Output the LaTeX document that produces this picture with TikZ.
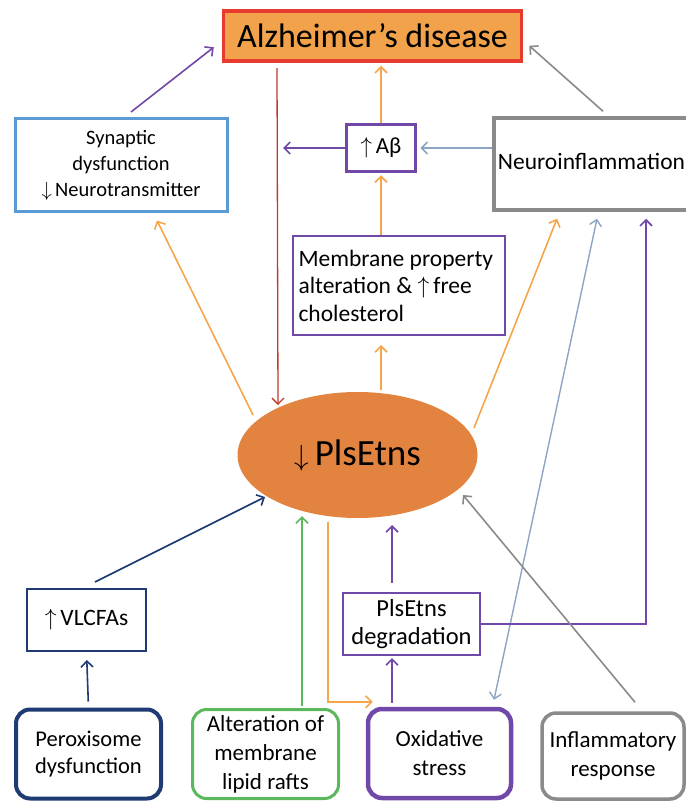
\RequirePackage{fix-cm}
\documentclass[tikz,border=0pt]{standalone}
\usepackage{fontspec}
\setmainfont{Carlito}
\usetikzlibrary{arrows.meta,shapes.geometric,calc}
\definecolor{adorange}{HTML}{F1A24A}
\definecolor{adred}{HTML}{E63B2E}
\definecolor{plsorange}{HTML}{E2843F}
\definecolor{arrorange}{HTML}{F5A64B}
\definecolor{linered}{HTML}{C0392B}
\definecolor{ppurple}{HTML}{7048A8}
\definecolor{synblue}{HTML}{5B9BD5}
\definecolor{ngray}{HTML}{8A8A8A}
\definecolor{bluegray}{HTML}{8DA5C5}
\definecolor{navy}{HTML}{1F3B73}
\definecolor{lgreen}{HTML}{5CB85C}

\begin{document}
\begin{tikzpicture}[
  x=1pt, y=-1pt,
  every node/.style={align=center, inner sep=0pt},
  rootbox/.style={rectangle, draw=adred, fill=adorange, line width=3.5pt,
                  minimum width=298pt, minimum height=50pt,
                  font=\fontsize{34}{40}\selectfont},
  midbox/.style={rectangle, draw, fill=white, line width=3pt,
                 font=\fontsize{24}{28}\selectfont},
  thinbox/.style={rectangle, draw, fill=white, line width=2pt,
                  font=\fontsize{24}{27}\selectfont},
  causebox/.style={rectangle, rounded corners=14pt, draw, fill=white, line width=4pt,
                   minimum height=89pt, font=\fontsize{23}{29}\selectfont},
  plsnode/.style={ellipse, fill=plsorange, minimum width=240pt, minimum height=126pt,
                  font=\fontsize{37}{40}\selectfont},
  arr/.style={line width=1.6pt, -{Straight Barb[length=6pt,width=12pt]}},
  darr/.style={line width=1.6pt, {Straight Barb[length=6pt,width=12pt]}-{Straight Barb[length=6pt,width=12pt]}}
]
\useasboundingbox (0,0) rectangle (685,802);

% Top
\node[rootbox] (ad) at (372.5, 36) {Alzheimer’s disease};

% Second row
\node[midbox, draw=synblue, minimum width=212pt, minimum height=93pt,
      font=\fontsize{20.5}{26}\selectfont] (syn) at (121, 165)
  {Synaptic\\dysfunction\\$\downarrow$\,Neurotransmitter};
\node[midbox, draw=ppurple, line width=3.5pt, minimum width=69pt, minimum height=47pt,
      font=\fontsize{23}{26}\selectfont] (abeta) at (381, 148) {$\uparrow$\,Aβ};
\node[midbox, draw=ngray, line width=3.5pt, minimum width=205pt, minimum height=92pt,
      font=\fontsize{23.5}{28}\selectfont] (neuro) at (596.5, 164)
  {\raisebox{6pt}{Neuroinflammation}\hspace*{10pt}};
\coordinate (abend) at (283, 148);

% Membrane box
\node[thinbox, draw=ppurple, minimum width=212pt, minimum height=99pt,
      font=\fontsize{23.5}{27.5}\selectfont] (memb) at (399, 285.5)
  {\raisebox{-6pt}{\parbox{201pt}{\raggedright Membrane property\\alteration \& $\uparrow$\,free\\cholesterol}}};

% Centre
\node[plsnode] (pls) at (357.5, 455) {{\fontsize{29}{30}\selectfont$\downarrow$}\,PlsEtns};

% Lower boxes
\node[thinbox, draw=navy, minimum width=119pt, minimum height=62pt,
      font=\fontsize{23.5}{28}\selectfont] (vlcfa) at (86.5, 620) {$\uparrow$\,VLCFAs};
\node[thinbox, draw=ppurple, minimum width=137pt, minimum height=62pt,
      font=\fontsize{24.5}{28}\selectfont] (degr) at (411.5, 624) {PlsEtns\\degradation};

% Causes
\node[causebox, draw=navy, minimum width=145pt, font=\fontsize{22.5}{27}\selectfont] (perox) at (88.5, 754)
  {Peroxisome\\dysfunction};
\node[causebox, draw=lgreen, line width=3pt, minimum width=146pt] (lipid) at (265.5, 754)
  {Alteration of\\membrane\\lipid rafts};
\node[causebox, draw=ppurple, line width=4.5pt, minimum width=143pt] (oxid) at (439.5, 753.5)
  {Oxidative\\stress};
\node[causebox, draw=ngray, line width=3.5pt, minimum width=142pt, minimum height=86pt] (infl) at (613, 756)
  {Inflammatory\\response};

% Edges into Alzheimer's disease
\draw[arr, ppurple] ([xshift=10pt,yshift=5pt]syn.north) -- ([xshift=-8pt,yshift=15.5pt]ad.south west);
\draw[arr, ngray] ([xshift=6.5pt,yshift=5pt]neuro.north) -- ([xshift=6pt,yshift=17pt]ad.south east);
\draw[arr, arrorange, shorten >=3pt] (abeta.north) -- (abeta.north |- ad.south);
\draw[arr, linered, line width=1.3pt] ([xshift=-95.5pt,yshift=-5.5pt]ad.south) -- ([xshift=-79.5pt,yshift=50pt]pls.center);

% Around Abeta
\draw[arr, arrorange, shorten >=2pt] (abeta.south |- memb.north) -- (abeta.south);
\draw[arr, ppurple] (abeta.west) -- (abend);
\draw[arr, bluegray, shorten >=3pt] (neuro.west |- abeta.east) -- (abeta.east);

% Out of PlsEtns
\draw[arr, arrorange, shorten <=2pt, shorten >=9pt] (abeta.south |- pls.north) -- (abeta.south |- memb.south);
\draw[arr, arrorange] ([xshift=-104.5pt,yshift=40pt]pls.center) -- ([xshift=36pt,yshift=-7.5pt]syn.south);
\draw[arr, arrorange] ([xshift=116.5pt,yshift=27pt]pls.center) -- ([xshift=-39.5pt,yshift=-7pt]neuro.south);
\draw[arr, arrorange] ([xshift=-29.5pt,yshift=-4pt]pls.south) |- ([xshift=7pt,yshift=5pt]oxid.north west);

% Into neuroinflammation / oxidative stress
\draw[darr, bluegray, line width=1.4pt] ([xshift=0.5pt,yshift=-7pt]neuro.south) -- ([xshift=54.5pt,yshift=7pt]oxid.north);
\draw[arr, ppurple] (degr.east) -| ([xshift=49.5pt,yshift=-7pt]neuro.south);

% Into PlsEtns
\draw[arr, navy] ([xshift=8.5pt,yshift=6pt]vlcfa.north) -- ([xshift=-92.5pt,yshift=-42pt]pls.center);
\draw[arr, lgreen] ([xshift=36.5pt,yshift=2pt]lipid.north) -- ([xshift=36.5pt,yshift=2pt]lipid.north |- pls.south);
\draw[arr, ppurple, shorten <=9pt] ([xshift=-19.5pt]degr.north) -- ([xshift=34.5pt,yshift=-70pt]pls.center);
\draw[arr, ngray] ([xshift=22pt,yshift=9pt]infl.north) -- ([xshift=105.5pt,yshift=-40pt]pls.center);

% Lower chain
\draw[arr, navy, shorten <=6pt, shorten >=8pt] (perox.north) -- (vlcfa.south);
\draw[arr, ppurple, shorten <=4pt, shorten >=2pt] ([xshift=-47.5pt]oxid.north) -- ([xshift=-47.5pt]oxid.north |- degr.south);

\end{tikzpicture}
\end{document}
